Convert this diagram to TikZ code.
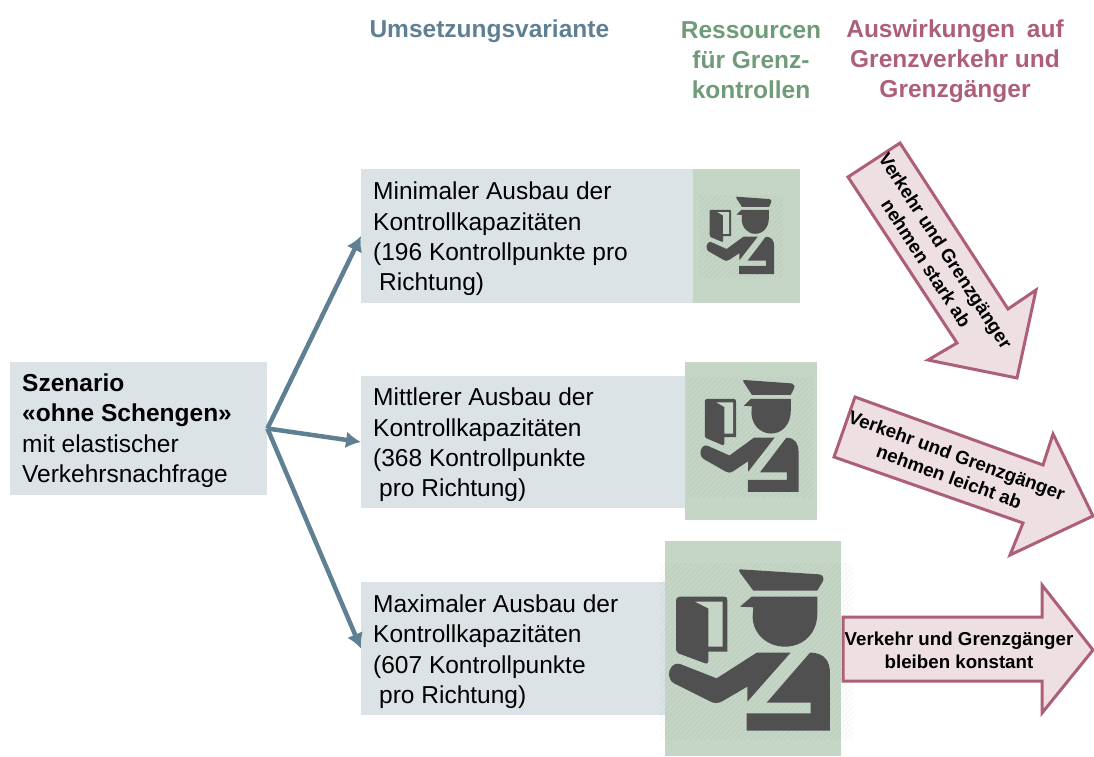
\documentclass[tikz,border=0pt]{standalone}
\usepackage{fontspec}
\setmainfont{Liberation Sans}
\usetikzlibrary{arrows.meta}
\definecolor{boxblue}{HTML}{DCE3E7}
\definecolor{boxgreen}{HTML}{C5D6C7}
\definecolor{arrowblue}{HTML}{5F7F93}
\definecolor{headgreen}{HTML}{6F9B78}
\definecolor{headred}{HTML}{AE5F78}
\definecolor{arrowfill}{HTML}{EEDFE3}
\definecolor{icon}{HTML}{505050}
\tikzset{
  x=1pt,y=-1pt,
  bluebox/.style={fill=boxblue,draw=none,anchor=west,inner sep=0pt},
  boxtext/.style={anchor=west,align=left,inner sep=0pt,font=\fontsize{24.5}{30.4}\selectfont},
  greenbox/.style={fill=boxgreen,draw=none},
  head/.style={font=\fontsize{24.5}{30}\selectfont\bfseries,align=center},
  flow/.style={draw=arrowblue,line width=4.5pt,-{Latex[length=15pt,width=17pt]}},
  impact/.style={draw=headred,fill=arrowfill,line width=3pt,line join=miter},
  impacttext/.style={font=\fontsize{18.7}{23}\selectfont\bfseries,align=center},
  hatchline/.style={draw=black,opacity=.03,line width=1.2pt},
  officer/.pic={
    \fill[icon] (240,118) -- (478,133) .. controls (492,135) and (492,150) .. (488,155) -- (472,182) -- (280,182) -- (240,128) .. controls (236,122) and (236,118) .. (240,118) -- cycle;
    \fill[icon] (240,230) -- (275,200) -- (472,200) -- (472,250)
       .. controls (472,310) and (430,350) .. (375,350)
       .. controls (320,350) and (278,310) .. (278,260) -- (280,232) -- cycle;
    \fill[icon] (60,200) -- (190,200) .. controls (202,200) and (202,205) .. (202,212) -- (202,365) -- (145,365) -- (145,392) .. controls (145,402) and (138,402) .. (130,398) -- (55,370) .. controls (48,366) and (48,360) .. (48,352) -- (48,212) .. controls (48,204) and (52,200) .. (60,200) -- cycle;
    \fill[boxgreen] (105,215) -- (188,215) -- (188,350) -- (145,350) -- (145,235) -- cycle;
    \fill[icon] (60,402) -- (170,445) -- (290,368) -- (392,368) -- (262,515) -- (262,470) -- (190,512) .. controls (175,522) and (160,520) .. (150,514) -- (42,460) .. controls (22,448) and (24,422) .. (35,410) .. controls (42,402) and (52,399) .. (60,402) -- cycle;
    \fill[icon] (320,518) -- (450,368) .. controls (495,368) and (510,395) .. (510,430) -- (510,602) -- (260,602) -- (260,550) -- (452,550) -- (452,518) -- cycle;
  }
}
\newcommand{\hatcharea}[4]{%
  \begin{scope}
    \clip (#1,#2) rectangle (#3,#4);
    \foreach \k in {0,5,...,420} {
      \draw[hatchline] (#1+\k-220,#4) -- (#1+\k,#4-220);
    }
  \end{scope}}
\begin{document}
\begin{tikzpicture}
\useasboundingbox (0,0) rectangle (1094,756);

% source and variants
\node[bluebox,minimum width=257pt,minimum height=133pt] (src) at (10,428.5) {};
\node[boxtext] (srctext) at ([xshift=12pt,yshift=-2pt]src.west)
  {\textbf{Szenario}\\\textbf{«ohne Schengen»}\\mit elastischer\\Verkehrsnachfrage};

\node[bluebox,minimum width=333pt,minimum height=134pt] (b1) at (361,236) {};
\node[boxtext] (b1text) at ([xshift=12pt,yshift=-3pt]b1.west)
  {Minimaler Ausbau der\\Kontrollkapazitäten\\(196 Kontrollpunkte pro\\\hspace*{6pt}Richtung)};
\node[bluebox,minimum width=324pt,minimum height=132pt] (b2) at (361,442) {};
\node[boxtext] (b2text) at ([xshift=12pt,yshift=-3pt]b2.west)
  {Mittlerer Ausbau der\\Kontrollkapazitäten\\(368 Kontrollpunkte\\\hspace*{6pt}pro Richtung)};
\node[bluebox,minimum width=304pt,minimum height=133pt] (b3) at (361,648.5) {};
\node[boxtext] (b3text) at ([xshift=12pt,yshift=-3pt]b3.west)
  {Maximaler Ausbau der\\Kontrollkapazitäten\\(607 Kontrollpunkte\\\hspace*{6pt}pro Richtung)};

% resource panels
\fill[greenbox] (693,169) rectangle (800,303);
\fill[greenbox] (685,362) rectangle (817,520);
\fill[greenbox] (665,541) rectangle (841,756);
\hatcharea{699}{195}{783}{278}
\hatcharea{688}{377}{813}{498}
\hatcharea{660}{563}{853}{740}
\pic[xscale=.14,yscale=.16] at (702.8,177.8) {officer};
\pic[xscale=.203,yscale=.231] at (695,352.7) {officer};
\pic[xscale=.3333,yscale=.3333] at (660,530) {officer};

% connectors
\draw[flow] (src.east) -- (b1.west);
\draw[flow] (src.east) -- (b2.west);
\draw[flow] (src.east) -- (b3.west);

% headers
\node[head,text=arrowblue,anchor=west] (h1) at (366,31.5) {Umsetzungsvariante};
\node[head,text=headgreen] (h2) at (751,60) {Ressourcen\\für Grenz-\\kontrollen};
\node[head,text=headred] (h3) at (955,61.5) {Auswirkungen\hspace{5pt} auf\\Grenzverkehr und\\Grenzgänger};

% impact arrows
\draw[impact] (900,143) -- (1008,309) -- (1036,290) -- (1017,378) -- (928,360) -- (957,343) -- (848,177) -- cycle;
\draw[impact] (855,397) -- (1043,465) -- (1053,434) -- (1093,516) -- (1010,555) -- (1023,523) -- (834,457) -- cycle;
\draw[impact] (843,617) -- (1042,617) -- (1042,585) -- (1093,650) -- (1042,713) -- (1042,681) -- (843,681) -- cycle;
\node[impacttext,rotate=-57] (t1) at (936,257) {Verkehr und Grenzgänger\\nehmen stark ab};
\node[impacttext,rotate=-20] (t2) at (953,466) {Verkehr und Grenzgänger\\nehmen leicht ab};
\node[impacttext] (t3) at (959,650) {Verkehr und Grenzgänger\\bleiben konstant};
\end{tikzpicture}
\end{document}
